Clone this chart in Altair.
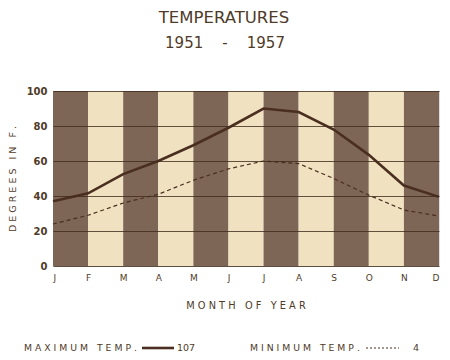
import altair as alt
import pandas as pd

months = ["J", "F", "M", "A", "M", "J", "J", "A", "S", "O", "N", "D"]
max_temp = [37, 41.5, 52.5, 60, 69, 79, 90, 88, 78, 63.5, 46, 39.5]
min_temp = [24, 29, 36, 41, 49, 55.5, 60, 58.5, 50, 40.5, 32, 28.5]
band_shade = ["dark", "light", "dark", "light", "dark", "light", "dark", "light", "dark", "light", "dark"]

DARK = "#7d6656"
LIGHT = "#f0e2c0"
INK = "#4a2e20"
TXT = "#4f3b28"
FONT = "DejaVu Sans"
S = "\u00a0"

W, H = 386, 175


def spaced(s, gap=1):
    words = s.split(" ")
    return (S * 3).join((S * gap).join(list(w)) for w in words)


df = pd.DataFrame({"m": list(range(12)), "max": max_temp, "min": min_temp})
bands = pd.DataFrame({"x": list(range(11)), "x2": [i + 1 for i in range(11)], "shade": band_shade})

label_expr = "[" + ",".join("'%s'" % m for m in months) + "][datum.value]"

xscale = alt.Scale(domain=[0, 11], nice=False, zero=False)
yscale = alt.Scale(domain=[0, 100], nice=False)

xaxis = alt.Axis(values=list(range(12)), labelExpr=label_expr, ticks=False, domain=False, grid=False,
                 labelOverlap=False, labelFont=FONT, labelFontSize=9, labelColor=TXT, labelPadding=7, title=None)
yaxis = alt.Axis(values=[0, 20, 40, 60, 80, 100], ticks=False, domain=False, grid=True, labelOverlap=False,
                 gridColor="#3e2a1c", gridWidth=1, gridOpacity=0.8, zindex=1,
                 labelFont=FONT, labelFontSize=10, labelFontWeight="bold", labelColor=TXT, labelPadding=6,
                 title=spaced("DEGREES IN F."), titleFont=FONT, titleFontSize=9.5, titleFontWeight="normal",
                 titleColor=TXT, titlePadding=9)

rects = alt.Chart(bands).mark_rect().encode(
    x=alt.X("x:Q", scale=xscale, axis=xaxis),
    x2="x2:Q",
    y=alt.value(0),
    y2=alt.value(H),
    color=alt.Color("shade:N", scale=alt.Scale(domain=["dark", "light"], range=[DARK, LIGHT]), legend=None),
)

max_line = alt.Chart(df).mark_line(color=INK, strokeWidth=2.6).encode(
    x=alt.X("m:Q", scale=xscale, axis=xaxis), y=alt.Y("max:Q", scale=yscale, axis=yaxis)
)
min_line = alt.Chart(df).mark_line(color=INK, strokeWidth=1.2, strokeDash=[4, 3]).encode(
    x=alt.X("m:Q", scale=xscale, axis=xaxis), y=alt.Y("min:Q", scale=yscale, axis=yaxis)
)


def txt(s, x, y, size, align="center"):
    return alt.Chart(pd.DataFrame({"t": [s]})).mark_text(
        font=FONT, fontSize=size, color=TXT, align=align, baseline="middle"
    ).encode(x=alt.value(x), y=alt.value(y), text="t:N")


title1 = txt("TEMPERATURES", 171, -73, 16.5)
title2 = txt("1951" + S * 4 + "-" + S * 4 + "1957", 172, -48, 15)
xtitle = txt(spaced("MONTH OF YEAR"), 193, 215, 9.8)
leg1 = txt(spaced("MAXIMUM TEMP."), -29, 257, 9.3, "left")
leg1b = txt("107", 124, 257, 9.5, "left")
leg2 = txt(spaced("MINIMUM TEMP."), 197, 257, 9.3, "left")
leg2b = txt("4", 360, 257, 9.5, "left")

sample1 = alt.Chart(pd.DataFrame({"a": [0]})).mark_rule(color=INK, strokeWidth=2.6).encode(
    x=alt.value(89), x2=alt.value(121), y=alt.value(257)
)
sample2 = alt.Chart(pd.DataFrame({"a": [0]})).mark_rule(color=INK, strokeWidth=1, strokeDash=[2, 2]).encode(
    x=alt.value(313), x2=alt.value(346), y=alt.value(257)
)

chart = alt.layer(
    rects, max_line, min_line, title1, title2, xtitle, leg1, leg1b, leg2, leg2b, sample1, sample2
).properties(
    width=W, height=H,
    autosize=alt.AutoSizeParams(type="none"),
    padding={"left": 45, "top": 83, "right": 3, "bottom": 86},
).configure_view(stroke="#3e2a1c", strokeWidth=1.2).configure(background="white")

chart.save("out.html", embed_options={"renderer": "svg", "actions": False})
